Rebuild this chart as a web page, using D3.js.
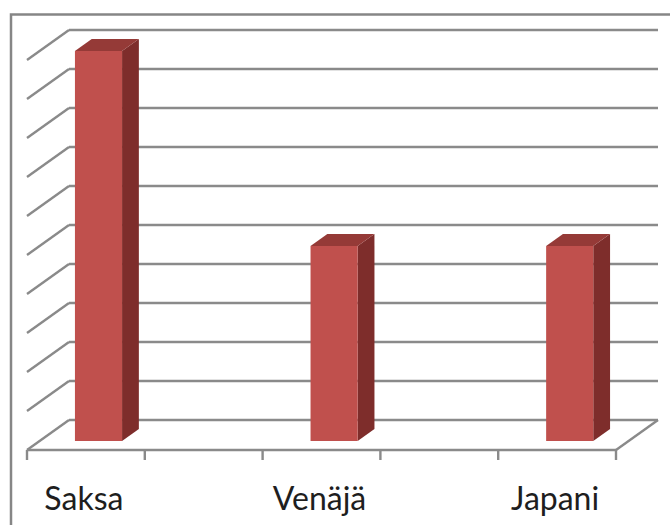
<!DOCTYPE html>
<html>
<head>
<meta charset="utf-8">
<script src="https://cdn.jsdelivr.net/npm/d3@7"></script>
<style>
  html, body { margin: 0; padding: 0; background: #fff; }
  svg { display: block; }
</style>
</head>
<body>
<svg id="chart" width="670" height="525"></svg>
<script>
// Category slots (blank slots keep Excel-style spacing) and their values
const categories = ["Saksa", "", "Venäjä", "", "Japani"];
const values = [10, null, 5, null, 5];
const gridValues = [0, 1, 2, 3, 4, 5, 6, 7, 8, 9, 10];

const W = 670, H = 525;
const svg = d3.select("#chart");

// Back wall geometry and oblique depth offset
const back = { left: 69, right: 658, bottom: 420, top: 30 };
const DX = 42, DY = 30;           // shift from back (d=0) to front (d=1)
const barDepth = [0.3, 0.7];      // bar occupies this depth band
const barFrac = 0.4;              // bar width relative to slot

const x = d3.scaleBand()
  .domain(d3.range(categories.length))
  .range([back.left, back.right])
  .paddingInner(0).paddingOuter(0);
const y = d3.scaleLinear().domain([0, 10]).range([back.bottom, back.top]);

// project a back-wall point (px, py) to depth d
const P = (px, py, d) => [px - d * DX, py + d * DY];

// outer chart border
svg.append("rect")
  .attr("x", 11).attr("y", 14.5)
  .attr("width", W + 20).attr("height", H + 20)
  .attr("fill", "none").attr("stroke", "#868686").attr("stroke-width", 2.5);

const gridColor = "#8a8a8a";
const g = svg.append("g");

// back wall gridlines
g.selectAll("line.back").data(gridValues).join("line")
  .attr("class", "back")
  .attr("x1", back.left).attr("x2", back.right)
  .attr("y1", d => y(d)).attr("y2", d => y(d))
  .attr("stroke", gridColor).attr("stroke-width", 2.4);

// side wall gridlines
g.selectAll("line.side").data(gridValues).join("line")
  .attr("class", "side")
  .attr("x1", back.left).attr("y1", d => y(d))
  .attr("x2", d => P(back.left, y(d), 1)[0])
  .attr("y2", d => P(back.left, y(d), 1)[1])
  .attr("stroke", gridColor).attr("stroke-width", 2.4);

// floor: right edge and front edge (category axis)
const fl = P(back.left, y(0), 1), fr = P(back.right, y(0), 1);
g.append("line")
  .attr("x1", back.right).attr("y1", y(0))
  .attr("x2", fr[0]).attr("y2", fr[1])
  .attr("stroke", gridColor).attr("stroke-width", 2.4);
g.append("line")
  .attr("x1", fl[0]).attr("y1", fl[1])
  .attr("x2", fr[0]).attr("y2", fr[1])
  .attr("stroke", gridColor).attr("stroke-width", 2.4);

// tick marks at slot boundaries on the front edge
const tickPos = d3.range(categories.length + 1).map(i =>
  i < categories.length ? x(i) : x(categories.length - 1) + x.bandwidth());
g.selectAll("line.tick").data(tickPos).join("line")
  .attr("class", "tick")
  .attr("x1", d => P(d, y(0), 1)[0]).attr("x2", d => P(d, y(0), 1)[0])
  .attr("y1", fl[1]).attr("y2", fl[1] + 10)
  .attr("stroke", gridColor).attr("stroke-width", 2.4);

// 3D bars
const bars = categories.map((c, i) => ({ c, i, v: values[i] })).filter(d => d.v != null);
const bw = x.bandwidth() * barFrac;
const bg = svg.append("g");
bars.forEach(d => {
  const cx = x(d.i) + x.bandwidth() / 2;
  const x0 = cx - bw / 2, x1 = cx + bw / 2;
  const yb = y(0), yt = y(d.v);
  const [df, dbk] = [barDepth[1], barDepth[0]];
  const pts = (arr) => arr.map(p => p.join(",")).join(" ");
  // right side face
  bg.append("polygon")
    .attr("points", pts([P(x1, yt, df), P(x1, yt, dbk), P(x1, yb, dbk), P(x1, yb, df)]))
    .attr("fill", "#7e2d2b");
  // top face
  bg.append("polygon")
    .attr("points", pts([P(x0, yt, df), P(x0, yt, dbk), P(x1, yt, dbk), P(x1, yt, df)]))
    .attr("fill", "#953a37");
  // front face
  const f0 = P(x0, yt, df), f1 = P(x1, yb, df);
  bg.append("rect")
    .attr("x", f0[0]).attr("y", f0[1])
    .attr("width", f1[0] - f0[0]).attr("height", f1[1] - f0[1])
    .attr("fill", "#c0504d");
});

// category labels
svg.append("g").selectAll("text").data(bars).join("text")
  .attr("x", d => P(x(d.i) + x.bandwidth() / 2, y(0), 1)[0] - 2)
  .attr("y", 510)
  .attr("text-anchor", "middle")
  .attr("font-family", "Lato, 'Open Sans', sans-serif")
  .attr("font-size", 32)
  .attr("fill", "#1e1e1e")
  .text(d => d.c);
</script>
</body>
</html>
